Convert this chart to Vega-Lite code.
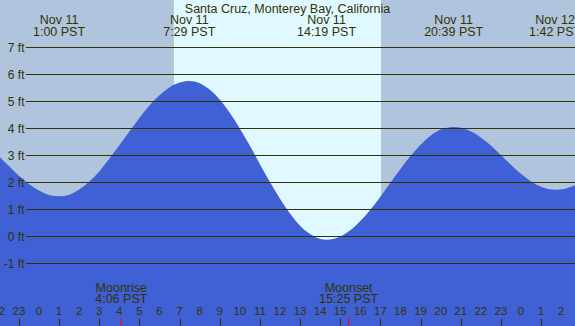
{
  "$schema": "https://vega.github.io/schema/vega-lite/v6.json",
  "width": 575,
  "height": 326,
  "autosize": {"type": "none"},
  "padding": 0,
  "background": "#b0c4de",
  "config": {
    "view": {"stroke": null},
    "font": "Liberation Sans",
    "axis": {"labelOverlap": false, "labelFlush": false, "labelBound": false, "title": null, "grid": false, "domain": false, "zindex": 2}
  },
  "datasets": {
    "tide": [
      {"t": -2, "ft": 2.98}, {"t": -1.5, "ft": 2.61}, {"t": -1, "ft": 2.25}, {"t": -0.5, "ft": 1.94},
      {"t": 0, "ft": 1.70}, {"t": 0.5, "ft": 1.54}, {"t": 1, "ft": 1.49}, {"t": 1.5, "ft": 1.55},
      {"t": 2, "ft": 1.74}, {"t": 2.5, "ft": 2.03}, {"t": 3, "ft": 2.41}, {"t": 3.5, "ft": 2.88},
      {"t": 4, "ft": 3.38}, {"t": 4.5, "ft": 3.89}, {"t": 5, "ft": 4.39}, {"t": 5.5, "ft": 4.85},
      {"t": 6, "ft": 5.23}, {"t": 6.5, "ft": 5.52}, {"t": 7, "ft": 5.70}, {"t": 7.483, "ft": 5.76},
      {"t": 8, "ft": 5.68}, {"t": 8.5, "ft": 5.44}, {"t": 9, "ft": 5.07}, {"t": 9.5, "ft": 4.58},
      {"t": 10, "ft": 4.00}, {"t": 10.5, "ft": 3.36}, {"t": 11, "ft": 2.68}, {"t": 11.5, "ft": 2.02},
      {"t": 12, "ft": 1.40}, {"t": 12.5, "ft": 0.85}, {"t": 13, "ft": 0.40}, {"t": 13.5, "ft": 0.09},
      {"t": 14, "ft": -0.09}, {"t": 14.317, "ft": -0.12}, {"t": 14.7, "ft": -0.08}, {"t": 15, "ft": 0.00},
      {"t": 15.5, "ft": 0.23}, {"t": 16, "ft": 0.57}, {"t": 16.5, "ft": 0.99}, {"t": 17, "ft": 1.47},
      {"t": 17.5, "ft": 1.99}, {"t": 18, "ft": 2.50}, {"t": 18.5, "ft": 2.98}, {"t": 19, "ft": 3.40},
      {"t": 19.5, "ft": 3.73}, {"t": 20, "ft": 3.96}, {"t": 20.65, "ft": 4.06}, {"t": 21, "ft": 4.03},
      {"t": 21.5, "ft": 3.90}, {"t": 22, "ft": 3.67}, {"t": 22.5, "ft": 3.37}, {"t": 23, "ft": 3.02},
      {"t": 23.5, "ft": 2.66}, {"t": 24, "ft": 2.32}, {"t": 24.5, "ft": 2.04}, {"t": 25, "ft": 1.84},
      {"t": 25.7, "ft": 1.73}, {"t": 26.2, "ft": 1.77}, {"t": 26.5, "ft": 1.84}, {"t": 27, "ft": 2.00}
    ],
    "daylight": [{"sunrise": 6.72, "sunset": 17.03}],
    "levels": [{"ft": -1}, {"ft": 0}, {"ft": 1}, {"ft": 2}, {"ft": 3}, {"ft": 4}, {"ft": 5}, {"ft": 6}, {"ft": 7}],
    "hours": [
      {"t": -2, "h": "22"}, {"t": -1, "h": "23"}, {"t": 0, "h": "0"}, {"t": 1, "h": "1"}, {"t": 2, "h": "2"},
      {"t": 3, "h": "3"}, {"t": 4, "h": "4"}, {"t": 5, "h": "5"}, {"t": 6, "h": "6"}, {"t": 7, "h": "7"},
      {"t": 8, "h": "8"}, {"t": 9, "h": "9"}, {"t": 10, "h": "10"}, {"t": 11, "h": "11"}, {"t": 12, "h": "12"},
      {"t": 13, "h": "13"}, {"t": 14, "h": "14"}, {"t": 15, "h": "15"}, {"t": 16, "h": "16"}, {"t": 17, "h": "17"},
      {"t": 18, "h": "18"}, {"t": 19, "h": "19"}, {"t": 20, "h": "20"}, {"t": 21, "h": "21"}, {"t": 22, "h": "22"},
      {"t": 23, "h": "23"}, {"t": 24, "h": "0"}, {"t": 25, "h": "1"}, {"t": 26, "h": "2"}
    ],
    "events": [
      {"t": 1.0, "label": "Nov 11\n1:00 PST"},
      {"t": 7.483, "label": "Nov 11\n7:29 PST"},
      {"t": 14.317, "label": "Nov 11\n14:19 PST"},
      {"t": 20.65, "label": "Nov 11\n20:39 PST"},
      {"t": 25.7, "label": "Nov 12\n1:42 PST"}
    ],
    "moon": [
      {"t": 4.1, "label": "Moonrise\n4:06 PST"},
      {"t": 15.417, "label": "Moonset\n15:25 PST"}
    ],
    "station": [{"t": 12.375, "name": "Santa Cruz, Monterey Bay, California"}]
  },
  "layer": [
    {
      "data": {"name": "daylight"},
      "mark": {"type": "rect", "color": "#e0f8ff"},
      "encoding": {
        "x": {
          "field": "sunrise", "type": "quantitative",
          "scale": {"domain": [-1.94, 26.69], "nice": false, "zero": false},
          "axis": {
            "orient": "bottom", "offset": -8, "title": null, "domain": false, "grid": false, "labels": false,
            "values": [-1, 0, 1, 2, 3, 4, 5, 6, 7, 8, 9, 10, 11, 12, 13, 14, 15, 16, 17, 18, 19, 20, 21, 22, 23, 24, 25, 26],
            "tickSize": 8,
            "tickColor": "#333300",
            "tickWidth": {"condition": {"test": "datum.value % 24 == 0", "value": 3}, "value": 1},
            "zindex": 2
          }
        },
        "x2": {"field": "sunset"}
      }
    },
    {
      "data": {"name": "tide"},
      "mark": {"type": "area", "color": "#4060d5", "interpolate": "monotone", "clip": true},
      "encoding": {
        "x": {"field": "t", "type": "quantitative", "scale": {"domain": [-1.94, 26.69], "nice": false, "zero": false}},
        "y": {
          "field": "ft", "type": "quantitative",
          "scale": {"domain": [-3.3148, 8.7593], "nice": false, "zero": false},
          "axis": {
            "orient": "left", "title": null, "domain": false, "grid": false, "ticks": false, "tickSize": 0,
            "values": [-1, 0, 1, 2, 3, 4, 5, 6, 7],
            "labelExpr": "datum.value + ' ft'",
            "labelPadding": -24, "labelAlign": "right", "labelBaseline": "middle", "labelOverlap": false,
            "labelFont": "Liberation Sans", "labelFontSize": 12, "labelColor": "#333300", "zindex": 2
          }
        },
        "y2": {"datum": -3.3148}
      }
    },
    {
      "data": {"name": "levels"},
      "mark": {"type": "rule", "color": "#333300", "strokeWidth": 1},
      "encoding": {
        "y": {"field": "ft", "type": "quantitative", "scale": {"domain": [-3.3148, 8.7593], "nice": false, "zero": false}},
        "x": {"datum": -0.65, "type": "quantitative", "scale": {"domain": [-1.94, 26.69], "nice": false, "zero": false}},
        "x2": {"datum": 26.69}
      }
    },
    {
      "data": {"name": "moon"},
      "mark": {"type": "rule", "color": "#ff0000", "strokeWidth": 1},
      "encoding": {
        "x": {"field": "t", "type": "quantitative", "scale": {"domain": [-1.94, 26.69], "nice": false, "zero": false}},
        "y": {"datum": -3.0185, "type": "quantitative", "scale": {"domain": [-3.3148, 8.7593], "nice": false, "zero": false}},
        "y2": {"datum": -3.3148}
      }
    },
    {
      "data": {"name": "hours"},
      "mark": {"type": "text", "baseline": "middle", "align": "center", "font": "Liberation Sans", "fontSize": 11.5, "color": "#333300"},
      "encoding": {
        "x": {"field": "t", "type": "quantitative", "scale": {"domain": [-1.94, 26.69], "nice": false, "zero": false}},
        "y": {"datum": -2.778, "type": "quantitative", "scale": {"domain": [-3.3148, 8.7593], "nice": false, "zero": false}},
        "text": {"field": "h"}
      }
    },
    {
      "data": {"name": "events"},
      "mark": {"type": "text", "lineBreak": "\n", "lineHeight": 12, "baseline": "middle", "align": "center", "font": "Liberation Sans", "fontSize": 12.5, "color": "#333300"},
      "encoding": {
        "x": {"field": "t", "type": "quantitative", "scale": {"domain": [-1.94, 26.69], "nice": false, "zero": false}},
        "y": {"datum": 8.037, "type": "quantitative", "scale": {"domain": [-3.3148, 8.7593], "nice": false, "zero": false}},
        "text": {"field": "label"}
      }
    },
    {
      "data": {"name": "moon"},
      "mark": {"type": "text", "lineBreak": "\n", "lineHeight": 11.5, "baseline": "middle", "align": "center", "font": "Liberation Sans", "fontSize": 12.5, "color": "#333300"},
      "encoding": {
        "x": {"field": "t", "type": "quantitative", "scale": {"domain": [-1.94, 26.69], "nice": false, "zero": false}},
        "y": {"datum": -1.889, "type": "quantitative", "scale": {"domain": [-3.3148, 8.7593], "nice": false, "zero": false}},
        "text": {"field": "label"}
      }
    },
    {
      "data": {"name": "station"},
      "mark": {"type": "text", "baseline": "alphabetic", "align": "center", "font": "Liberation Sans", "fontSize": 12.5, "color": "#333300"},
      "encoding": {
        "x": {"field": "t", "type": "quantitative", "scale": {"domain": [-1.94, 26.69], "nice": false, "zero": false}},
        "y": {"datum": 8.296, "type": "quantitative", "scale": {"domain": [-3.3148, 8.7593], "nice": false, "zero": false}},
        "text": {"field": "name"}
      }
    }
  ]
}
